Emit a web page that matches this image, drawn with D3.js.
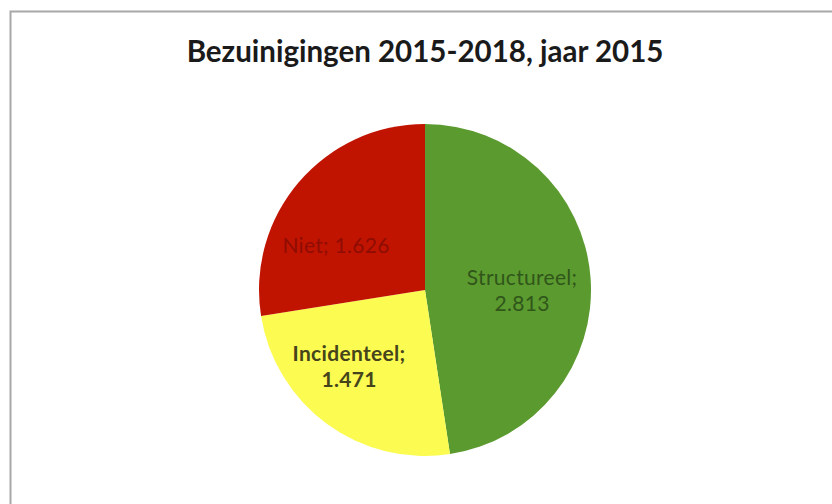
<!DOCTYPE html>
<html>
<head>
<meta charset="utf-8">
<script src="https://cdn.jsdelivr.net/npm/d3@7"></script>
<style>
  html, body { margin: 0; padding: 0; background: #fff; }
  svg { display: block; }
</style>
</head>
<body>
<svg id="chart" width="832" height="504"></svg>
<script>
// Savings 2015-2018, year 2015 (values in thousands)
const categories = ["Structureel", "Incidenteel", "Niet"];
const values = [2.813, 1.471, 1.626];
const valueLabels = ["2.813", "1.471", "1.626"];
const title = "Bezuinigingen 2015-2018, jaar 2015";

const fills = ["#5b9a2f", "#fbfb52", "#c11400"];
const textColors = ["#30561a", "#45441a", "#8e0c02"];

const svg = d3.select("#chart");
const W = 832, H = 504;

// chart frame (left and top edges visible)
svg.append("path")
  .attr("d", `M10.5,${H} L10.5,11.5 L${W},11.5`)
  .attr("fill", "none")
  .attr("stroke", "#a8a8a8")
  .attr("stroke-width", 2);

svg.append("text")
  .attr("x", 425)
  .attr("y", 62)
  .attr("text-anchor", "middle")
  .attr("font-family", "Lato, 'Open Sans', sans-serif")
  .attr("font-weight", "bold")
  .attr("font-size", 29.5)
  .attr("fill", "#1a1a1a")
  .text(title);

const cx = 425, cy = 290, r = 166;
const data = categories.map((c, i) => ({ name: c, value: values[i], label: valueLabels[i], i }));

const pie = d3.pie().value(d => d.value).sort(null);
const arcs = pie(data);
const arc = d3.arc().innerRadius(0).outerRadius(r);

const g = svg.append("g").attr("transform", `translate(${cx},${cy})`);

g.selectAll("path.slice")
  .data(arcs)
  .join("path")
  .attr("class", "slice")
  .attr("d", arc)
  .attr("fill", d => fills[d.data.i]);

// label placement: radial distance and angular shift relative to slice middle
const labelRadius = [0.585, 0.652, 0.595];
const labelShift = [0.086, 0.147, -0.257];
const twoLine = [true, true, false];

arcs.forEach(a => {
  const i = a.data.i;
  const ang = (a.startAngle + a.endAngle) / 2 + labelShift[i];
  const rr = r * labelRadius[i];
  const x = Math.sin(ang) * rr;
  const y = -Math.cos(ang) * rr;
  const t = g.append("text")
    .attr("text-anchor", "middle")
    .attr("font-family", "Lato, 'Open Sans', sans-serif")
    .attr("font-size", 21)
    .attr("letter-spacing", 0.3)
    .attr("font-weight", i === 1 ? "bold" : "normal")
    .attr("fill", textColors[i]);
  if (twoLine[i]) {
    t.append("tspan").attr("x", x).attr("y", y - 6).text(a.data.name + ";");
    t.append("tspan").attr("x", x).attr("y", y + 20).text(a.data.label);
  } else {
    t.attr("x", x).attr("y", y + 6).text(a.data.name + ";  " + a.data.label);
  }
});
</script>
</body>
</html>
